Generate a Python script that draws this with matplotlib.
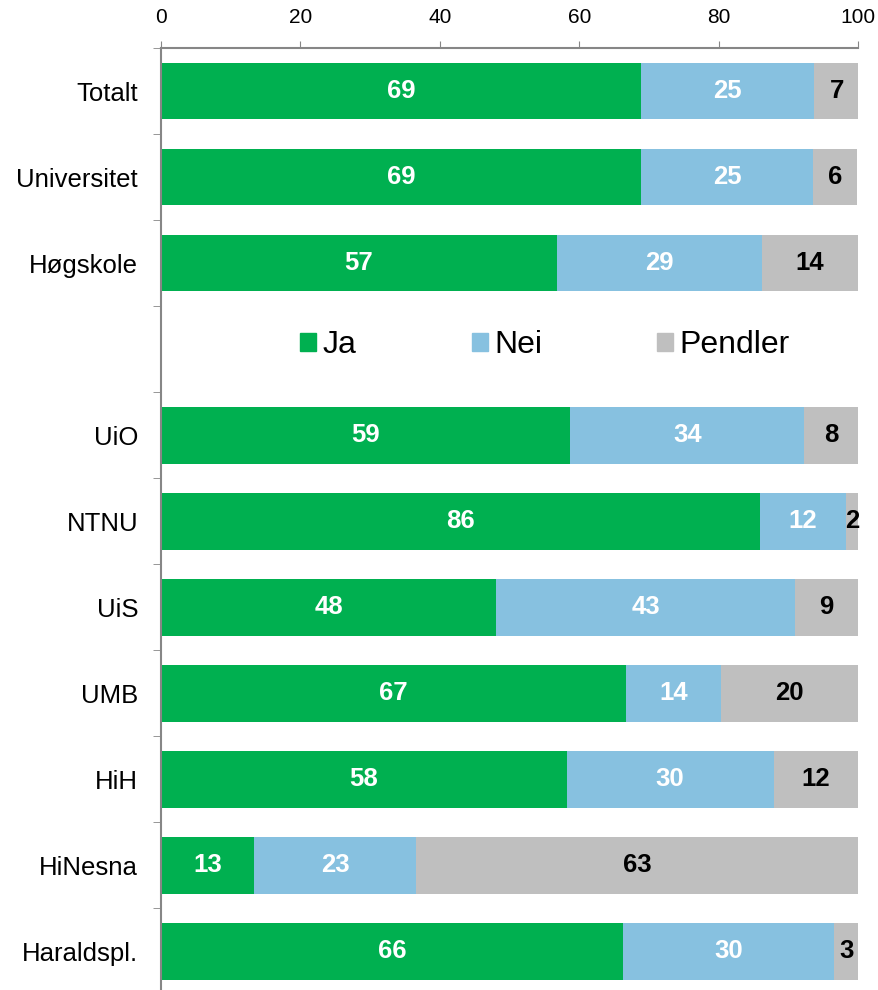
import numpy as np
import matplotlib.pyplot as plt
from matplotlib.patches import Patch

plt.rcParams['font.family'] = ['Liberation Sans', 'DejaVu Sans']

# Data (prosent), tom rad for legenden
kategorier = ['Totalt', 'Universitet', 'Høgskole', '', 'UiO', 'NTNU', 'UiS',
              'UMB', 'HiH', 'HiNesna', 'Haraldspl.']
ja = [68.8, 68.9, 56.8, np.nan, 58.7, 85.9, 48.1, 66.7, 58.2, 13.4, 66.3]
nei = [24.9, 24.6, 29.4, np.nan, 33.6, 12.4, 42.9, 13.6, 29.7, 23.2, 30.3]
pendler = [6.6, 6.4, 13.8, np.nan, 7.7, 1.7, 9.0, 19.7, 12.1, 63.4, 3.4]

serier = ['Ja', 'Nei', 'Pendler']
farger = ['#00B050', '#87C1E0', '#BFBFBF']
tekstfarger = ['white', 'white', 'black']

fig = plt.figure(figsize=(8.79, 9.9), dpi=100)
ax = fig.add_axes([161 / 879, 0.0, 697 / 879, 1 - 48 / 990])

y = np.arange(len(kategorier))
venstre = np.zeros(len(kategorier))
for verdier, farge, tf in zip([ja, nei, pendler], farger, tekstfarger):
    v = np.array(verdier, dtype=float)
    ax.barh(y, np.nan_to_num(v), left=venstre, height=0.66, color=farge,
            edgecolor='none')
    for yi, (l, w) in enumerate(zip(venstre, v)):
        if np.isnan(w):
            continue
        ax.text(l + w / 2, yi, f'{round(w):d}', ha='center', va='center',
                color=tf, fontsize=18.5, fontweight='bold')
    venstre = venstre + np.nan_to_num(v)

ax.set_xlim(0, 100)
ax.set_ylim(10.45, -0.5)
ax.set_xticks(np.arange(0, 101, 20))
ax.xaxis.tick_top()
ax.tick_params(axis='x', direction='out', length=5, color='#868686',
               labelsize=15, pad=10)
ax.set_yticks(y)
ax.set_yticklabels(kategorier, fontsize=18.5)
ax.set_yticks(np.arange(-0.5, 10.5, 1), minor=True)
ax.tick_params(axis='y', which='major', length=0, pad=16.5)
ax.tick_params(axis='y', which='minor', length=6, color='#868686')

for s in ['right', 'bottom']:
    ax.spines[s].set_visible(False)
for s in ['top', 'left']:
    ax.spines[s].set_color('#868686')
    ax.spines[s].set_linewidth(1.5)

handles = [Patch(color=f, label=s) for s, f in zip(serier, farger)]
fig.legend(handles=handles, loc='center', bbox_to_anchor=(545 / 879, 1 - 345 / 990),
           ncol=3, frameon=False, fontsize=23, handlelength=0.5, handleheight=0.5,
           handletextpad=0.2, columnspacing=3.6)

plt.savefig('out.png', dpi=100)
